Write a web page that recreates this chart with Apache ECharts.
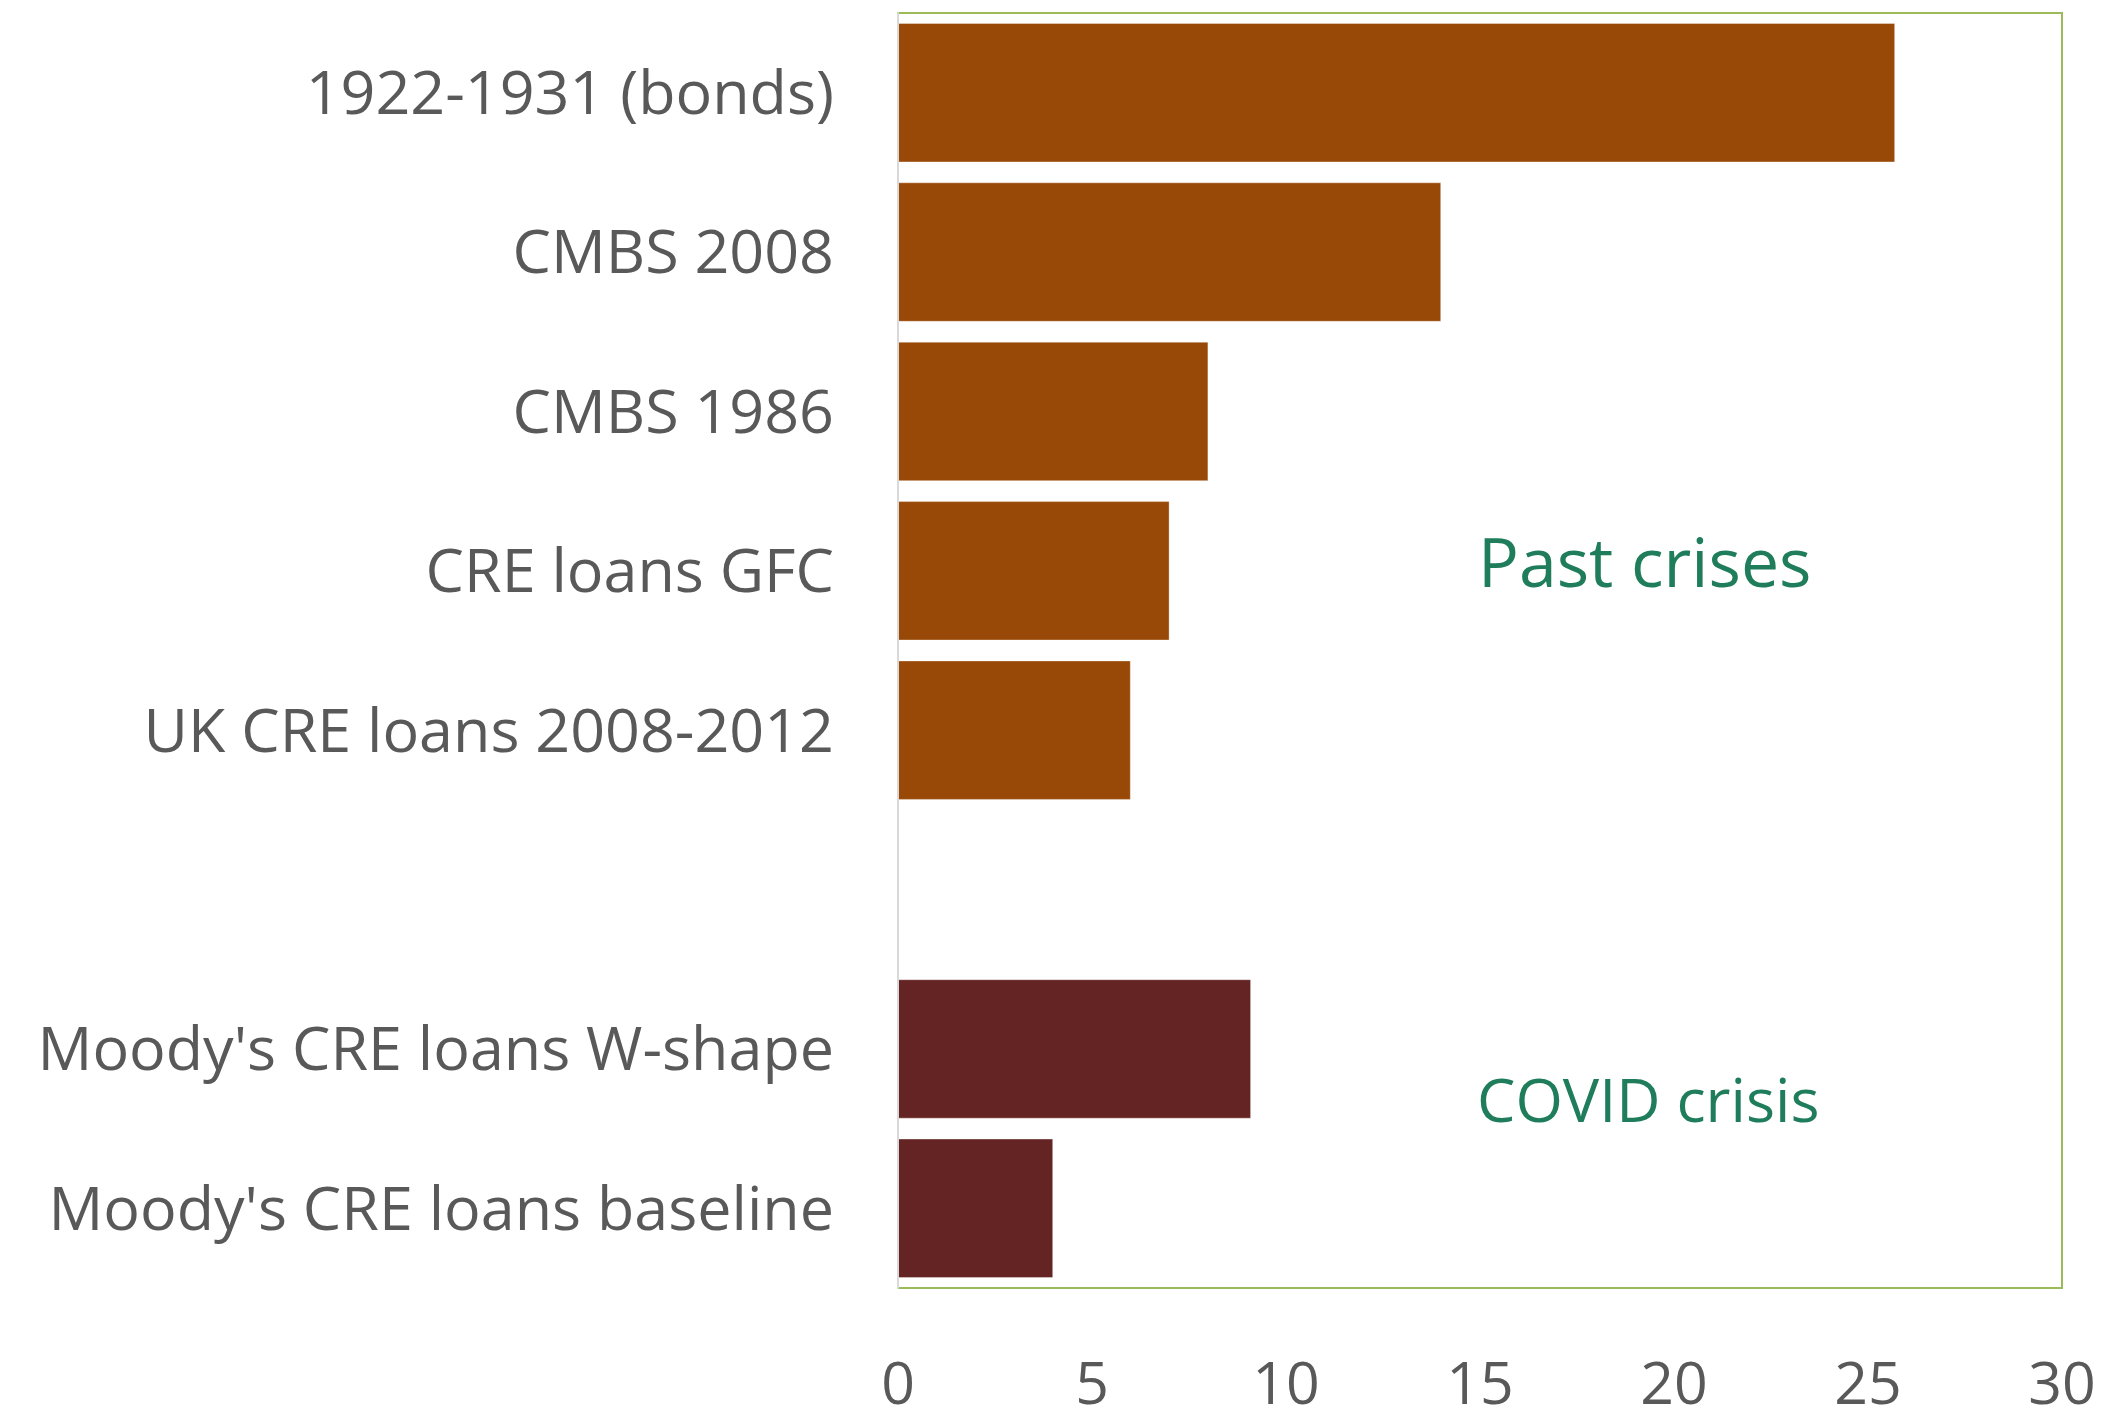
<!DOCTYPE html>
<html>
<head>
<meta charset="utf-8">
<title>Loss rates in CRE crises</title>
<script src="https://cdn.jsdelivr.net/npm/echarts@6/dist/echarts.min.js"></script>
<style>
  html, body { margin: 0; padding: 0; background: #ffffff; }
  #chart { width: 2105px; height: 1412px; }
</style>
</head>
<body>
<div id="chart"></div>
<script>
// Categories top to bottom; the empty entry separates the two groups.
const categories = [
  '1922-1931 (bonds)',
  'CMBS 2008',
  'CMBS 1986',
  'CRE loans GFC',
  'UK CRE loans 2008-2012',
  '',
  "Moody's CRE loans W-shape",
  "Moody's CRE loans baseline"
];
// Cumulative loss rates (%)
const values = [25.7, 14.0, 8.0, 7.0, 6.0, null, 9.1, 4.0];
// Which group each category belongs to
const groups = ['past', 'past', 'past', 'past', 'past', null, 'covid', 'covid'];
const groupColors = { past: '#984807', covid: '#632423' };
const xTicks = [0, 5, 10, 15, 20, 25, 30];

const chart = echarts.init(document.getElementById('chart'), null, { renderer: 'canvas' });

const barData = values.map((v, i) => ({
  value: v,
  itemStyle: { color: groups[i] ? groupColors[groups[i]] : 'transparent' }
}));

const font = '"Open Sans", "Noto Sans", sans-serif';

chart.setOption({
  animation: false,
  backgroundColor: '#ffffff',
  grid: {
    left: 898, right: 43, top: 13, bottom: 124,
    outerBoundsMode: 'none',
    containLabel: false,
    show: true,
    borderColor: '#9BBB59',
    borderWidth: 2,
    backgroundColor: 'transparent'
  },
  xAxis: {
    type: 'value',
    min: xTicks[0],
    max: xTicks[xTicks.length - 1],
    interval: 5,
    axisLine: { show: false },
    axisTick: { show: false },
    splitLine: { show: false },
    axisLabel: {
      color: '#595959',
      fontFamily: font,
      fontSize: 59,
      margin: 70
    }
  },
  yAxis: {
    type: 'category',
    data: categories,
    inverse: true,
    z: 5,
    axisLine: { show: true, lineStyle: { color: '#D9D9D9', width: 2 } },
    axisTick: { show: false },
    axisLabel: {
      margin: 64,
      formatter: (v) => v ? '{c|' + v + '}' : '',
      rich: {
        c: {
          color: '#595959',
          fontFamily: font,
          fontSize: 61,
          padding: [8, 0, 0, 0]
        }
      }
    }
  },
  series: [{
    type: 'bar',
    data: barData,
    barCategoryGap: '12.5%',
    itemStyle: { borderColor: 'rgba(255,255,255,0.35)', borderWidth: 1 }
  }],
  graphic: [
    {
      type: 'text',
      left: 1478,
      top: 534,
      style: {
        text: 'Past crises',
        fill: '#1F7D5C',
        font: '68px ' + font
      }
    },
    {
      type: 'text',
      left: 1477,
      top: 1074,
      style: {
        text: 'COVID crisis',
        fill: '#1F7D5C',
        font: '61px ' + font
      }
    }
  ]
});
</script>
</body>
</html>
